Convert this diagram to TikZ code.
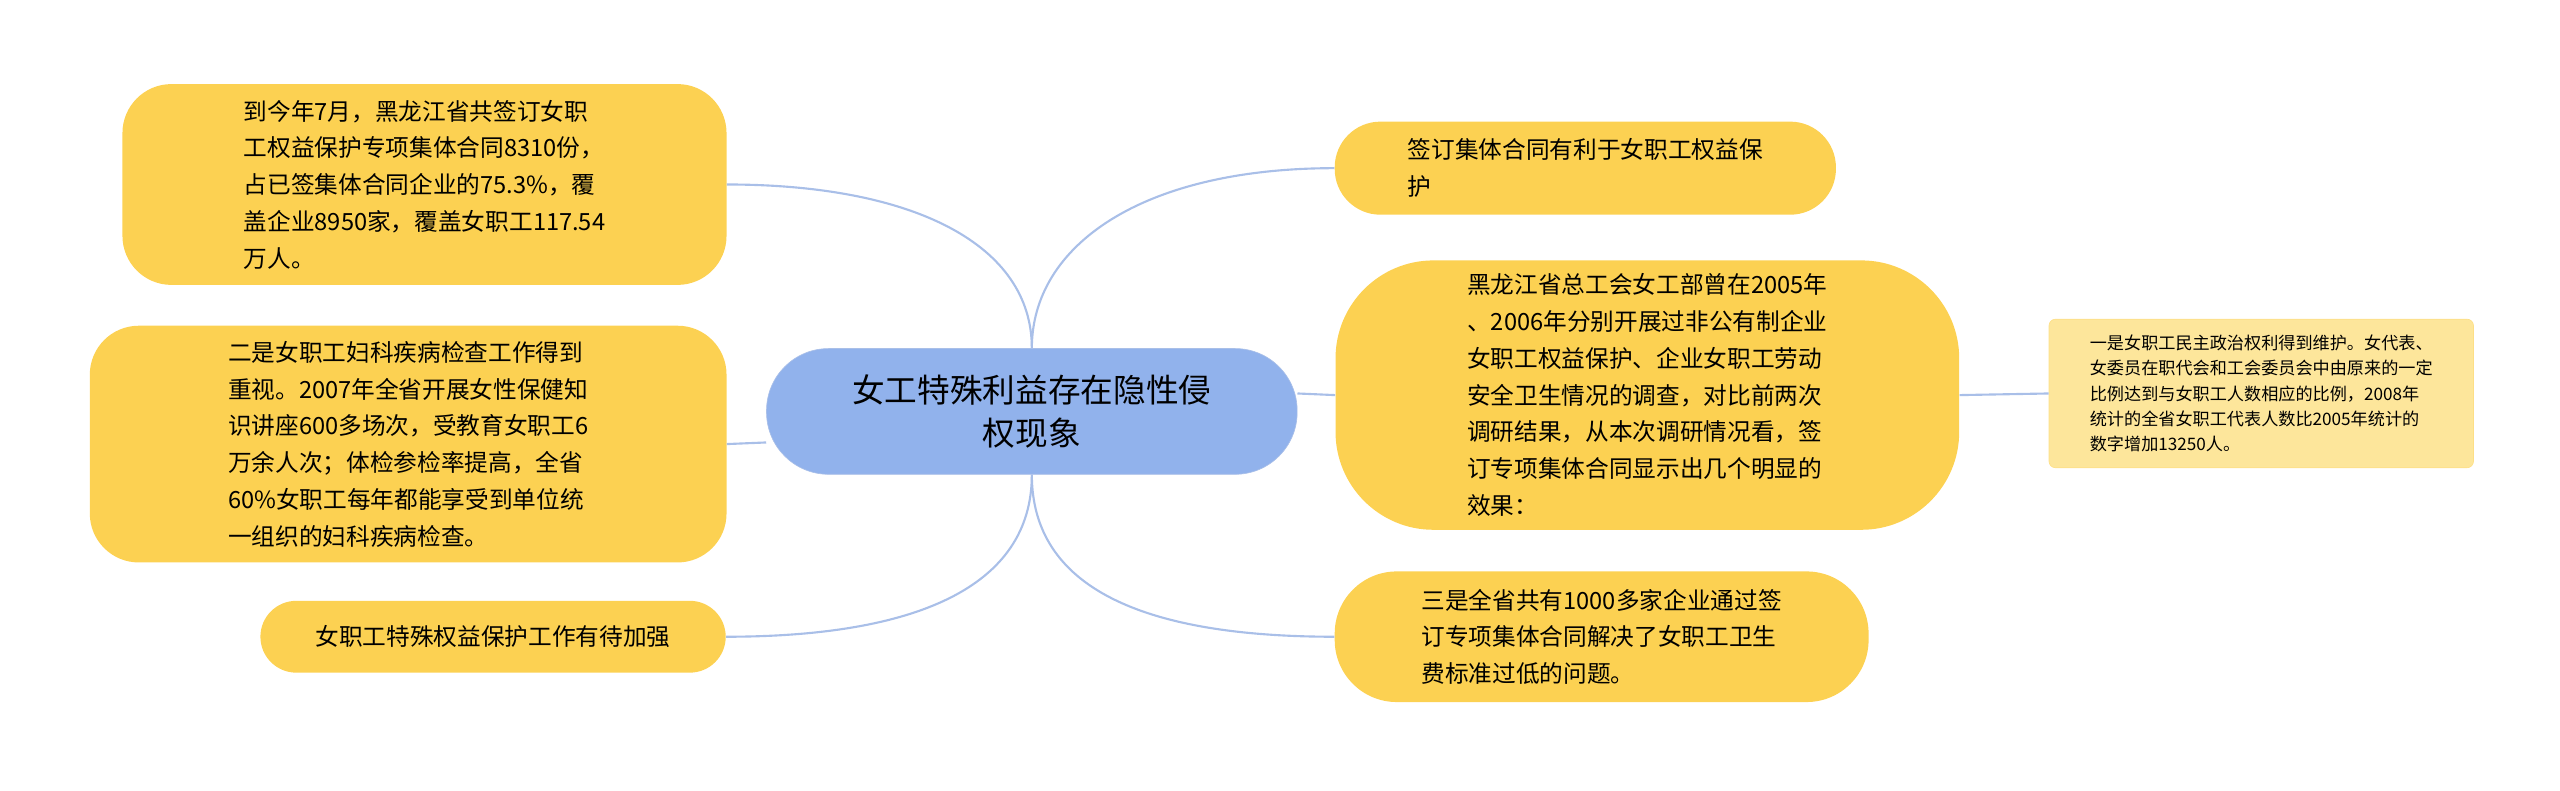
\documentclass[tikz,border=0pt]{standalone}
\usepackage{fontspec}
\setmainfont{Noto Sans CJK SC}
\usetikzlibrary{positioning}
\definecolor{leafyellow}{HTML}{FCD152}
\definecolor{rootblue}{HTML}{91B2EC}
\definecolor{linkblue}{HTML}{A9BFE8}
\definecolor{noteyellow}{HTML}{FDE69B}

\begin{document}
\begin{tikzpicture}[x=1pt,y=-1pt,
	root/.style={fill=rootblue,draw=linkblue,rounded corners=38pt,minimum width=325pt,minimum height=77pt,align=center,font=\fontsize{20}{26}\selectfont},
	leaf/.style={fill=leafyellow,rounded corners=30pt,align=left,font=\fontsize{14.5}{22.5}\selectfont,inner sep=0pt},
	note/.style={fill=noteyellow,draw=leafyellow!70,rounded corners=4pt,align=left,font=\fontsize{10.5}{15.5}\selectfont,minimum width=260pt,minimum height=91pt,inner sep=0pt},
	link/.style={draw=linkblue,line width=1.3pt}]
	\useasboundingbox (0,0) rectangle (1568,484);
	\node[root] (theme) at (632,252) {女工特殊利益存在隐性侵\\权现象};
	% left branches
	\node[leaf,minimum width=370pt,minimum height=123pt] (count) at (260,113) {到今年7月，黑龙江省共签订女职\\工权益保护专项集体合同8310份，\\占已签集体合同企业的75.3\%，覆\\盖企业8950家，覆盖女职工117.54\\万人。};
	\node[leaf,minimum width=390pt,minimum height=145pt] (exam) at (250,272) {二是女职工妇科疾病检查工作得到\\重视。2007年全省开展女性保健知\\识讲座600多场次，受教育女职工6\\万余人次；体检参检率提高，全省\\60\%女职工每年都能享受到单位统\\一组织的妇科疾病检查。};
	\node[leaf,minimum width=285pt,minimum height=44pt,rounded corners=22pt] (weak) at (302,390) {女职工特殊权益保护工作有待加强};
	% right branches
	\node[leaf,minimum width=307pt,minimum height=57pt,rounded corners=28pt] (sign) at (971,103) {签订集体合同有利于女职工权益保\\护};
	\node[leaf,minimum width=382pt,minimum height=165pt,rounded corners=60pt] (survey) at (1009,242) {黑龙江省总工会女工部曾在2005年\\、2006年分别开展过非公有制企业\\女职工权益保护、企业女职工劳动\\安全卫生情况的调查，对比前两次\\调研结果，从本次调研情况看，签\\订专项集体合同显示出几个明显的\\效果：};
	\node[leaf,minimum width=327pt,minimum height=80pt,rounded corners=38pt] (hygiene) at (981,390) {三是全省共有1000多家企业通过签\\订专项集体合同解决了女职工卫生\\费标准过低的问题。};
	\node[note] (rights) at (1385,241) {一是女职工民主政治权利得到维护。女代表、\\女委员在职代会和工会委员会中由原来的一定\\比例达到与女职工人数相应的比例，2008年\\统计的全省女职工代表人数比2005年统计的\\数字增加13250人。};
	% connectors
	\draw[link] (theme.north) .. controls (632,150) and (560,113) .. (count.east);
	\draw[link] (theme.west) ++(0,19) -- (exam.east);
	\draw[link] (theme.south) .. controls (632,360) and (560,390) .. (weak.east);
	\draw[link] (theme.north) .. controls (632,150) and (700,103) .. (sign.west);
	\draw[link] (theme.east) ++(0,-11) -- (survey.west);
	\draw[link] (theme.south) .. controls (632,360) and (700,390) .. (hygiene.west);
	\draw[link] (survey.east) -- (rights.west);
\end{tikzpicture}
\end{document}
